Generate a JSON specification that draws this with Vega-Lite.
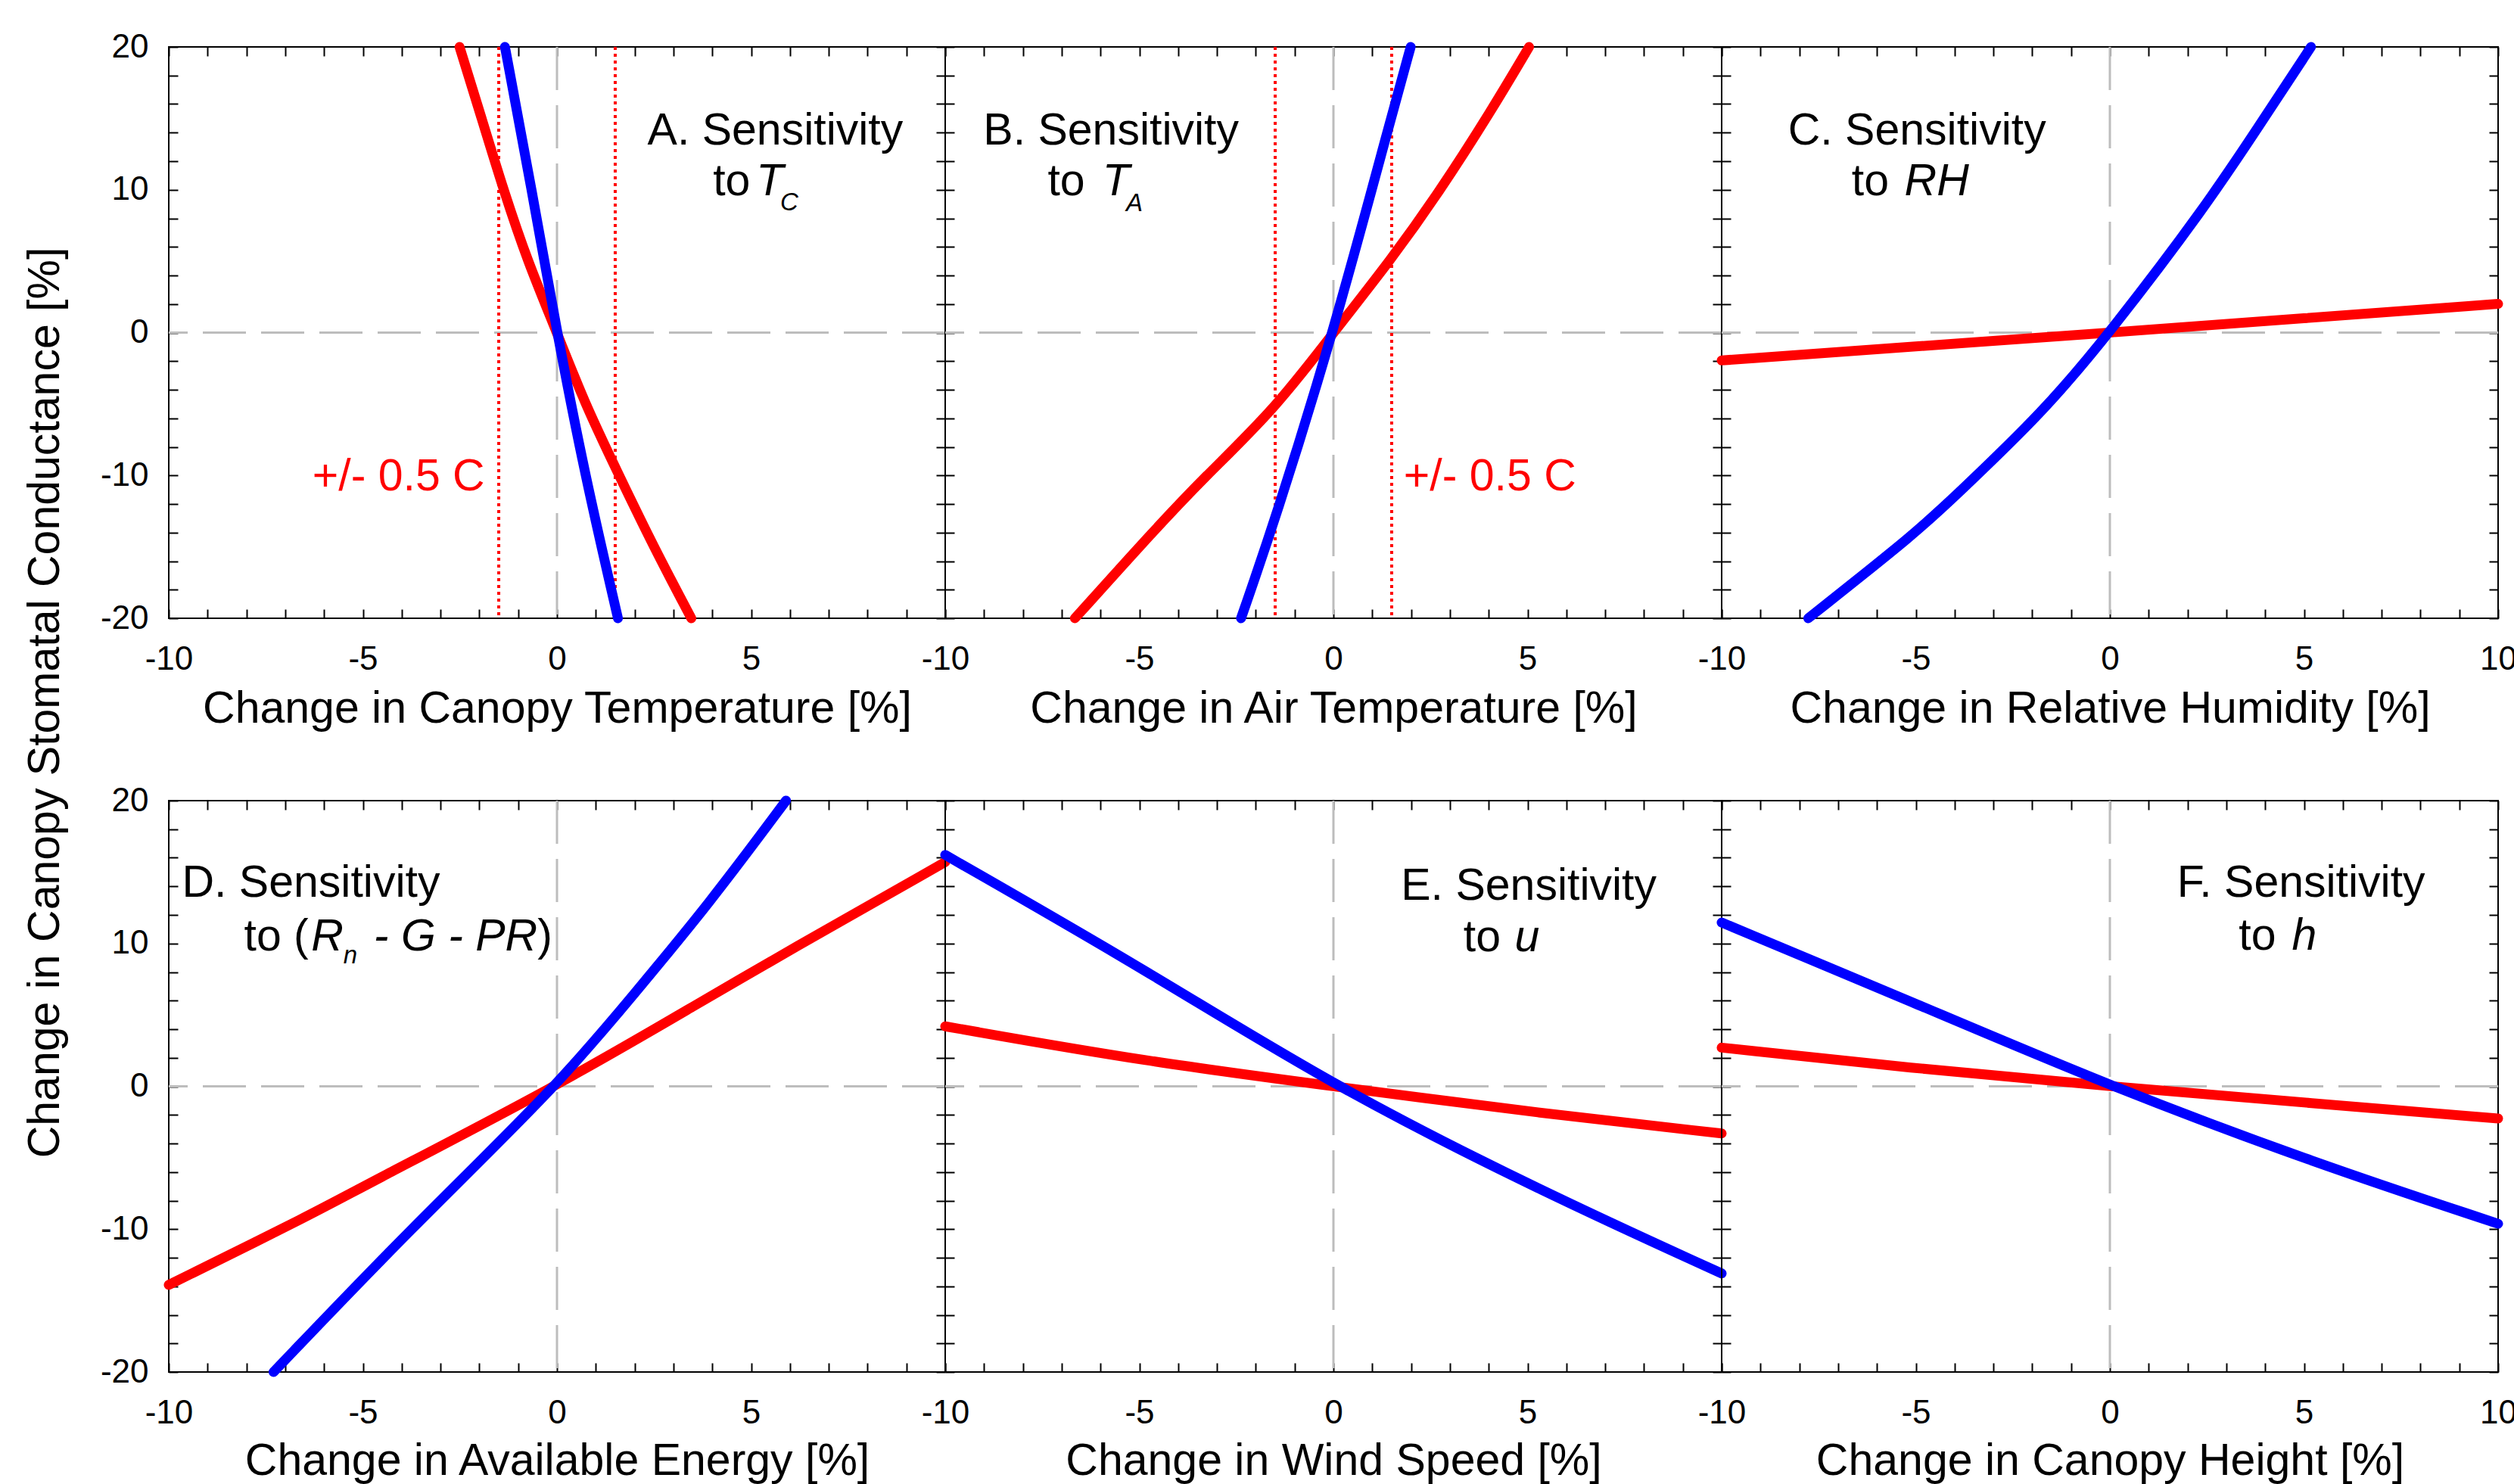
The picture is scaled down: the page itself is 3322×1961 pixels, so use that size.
{
  "$schema": "https://vega.github.io/schema/vega-lite/v6.json",
  "background": "white",
  "padding": {"left": 28, "top": 39, "right": 0, "bottom": 0},
  "columns": 3,
  "bounds": "flush",
  "spacing": {"row": 241, "column": 0},
  "config": {
    "view": {"stroke": "black", "strokeWidth": 2},
    "axis": {"domain": false, "grid": false, "tickColor": "black", "tickWidth": 2, "tickSize": -12,
      "labelFont": "Liberation Sans", "labelFontSize": 44, "labelColor": "black",
      "titleFont": "Liberation Sans", "titleFontSize": 59, "titleFontWeight": "normal", "titleColor": "black",
      "labelFlush": false, "labelOverlap": false, "labelBound": false},
    "text": {"font": "Liberation Sans", "fontSize": 59, "align": "left", "baseline": "alphabetic", "color": "black"}
  },
  "concat": [
    {
      "width": 1026, "height": 755,
      "layer": [
        {"data": {"values": [{"x": 0}]}, "mark": {"type": "rule", "color": "#bdbdbd", "strokeWidth": 3, "strokeDash": [57, 20]},
         "encoding": {"x": {"field": "x", "type": "quantitative", "scale": {"domain": [-10, 10], "nice": false, "zero": false},
           "axis": {"orient": "top", "values": [-10,-9,-8,-7,-6,-5,-4,-3,-2,-1,0,1,2,3,4,5,6,7,8,9,10], "labels": false, "title": null}}}},
        {"data": {"values": [{"y": 0}]}, "mark": {"type": "rule", "color": "#bdbdbd", "strokeWidth": 3, "strokeDash": [57, 20]},
         "encoding": {"y": {"field": "y", "type": "quantitative", "scale": {"domain": [-20, 20], "nice": false, "zero": false},
           "axis": {"orient": "right", "values": [-20,-18,-16,-14,-12,-10,-8,-6,-4,-2,0,2,4,6,8,10,12,14,16,18,20], "labels": false, "title": null}}}},
        {"data": {"values": [{"x": -1.5}, {"x": 1.5}]}, "mark": {"type": "rule", "color": "#ff0000", "strokeWidth": 4, "strokeDash": [4, 5]},
         "encoding": {"x": {"field": "x", "type": "quantitative", "scale": {"domain": [-10, 10], "nice": false, "zero": false}, "axis": null}}},
        {"data": {"values": [
          {"series": "Case 1", "x": -2.51, "y": 20}, {"series": "Case 1", "x": -1.94, "y": 15}, {"series": "Case 1", "x": -1.38, "y": 10},
          {"series": "Case 1", "x": -0.76, "y": 5}, {"series": "Case 1", "x": 0, "y": 0}, {"series": "Case 1", "x": 0.72, "y": -5},
          {"series": "Case 1", "x": 1.6, "y": -10}, {"series": "Case 1", "x": 2.49, "y": -15}, {"series": "Case 1", "x": 3.46, "y": -20},
          {"series": "Case 2", "x": -1.34, "y": 20}, {"series": "Case 2", "x": -0.65, "y": 10}, {"series": "Case 2", "x": 0, "y": 0},
          {"series": "Case 2", "x": 0.72, "y": -10}, {"series": "Case 2", "x": 1.57, "y": -20}
         ]},
         "mark": {"type": "line", "strokeWidth": 13, "strokeCap": "round", "strokeJoin": "round", "interpolate": "basis"},
         "encoding": {
           "x": {"field": "x", "type": "quantitative", "scale": {"domain": [-10, 10], "nice": false, "zero": false},
             "axis": {"orient": "bottom", "values": [-10,-9,-8,-7,-6,-5,-4,-3,-2,-1,0,1,2,3,4,5,6,7,8,9,10],
               "labelExpr": "datum.value % 5 === 0 && datum.value < 10 ? '' + datum.value : ''", "labelPadding": 79, "labelBaseline": "alphabetic",
               "title": "Change in Canopy Temperature [%]", "titleY": 137, "titleBaseline": "alphabetic"}},
           "y": {"field": "y", "type": "quantitative", "scale": {"domain": [-20, 20], "nice": false, "zero": false},
             "axis": {"orient": "left", "values": [-20,-18,-16,-14,-12,-10,-8,-6,-4,-2,0,2,4,6,8,10,12,14,16,18,20],
               "labelExpr": "datum.value % 10 === 0 ? '' + datum.value : ''", "labelPadding": 39, "title": null}},
           "color": {"field": "series", "type": "nominal", "scale": {"domain": ["Case 1", "Case 2"], "range": ["#ff0000", "#0000ff"]}, "legend": null}
         }},
        {"data": {"values": [{"x": 2.33, "y": 13.15, "label": "A. Sensitivity"}, {"x": 4.02, "y": 9.59, "label": "to"}]},
         "mark": {"type": "text"},
         "encoding": {"x": {"field": "x", "type": "quantitative", "scale": {"domain": [-10, 10], "nice": false, "zero": false}, "axis": null},
           "y": {"field": "y", "type": "quantitative", "scale": {"domain": [-20, 20], "nice": false, "zero": false}, "axis": null},
           "text": {"field": "label"}}},
        {"data": {"values": [{"x": 5.13, "y": 9.59, "label": "T"}]},
         "mark": {"type": "text", "fontStyle": "italic"},
         "encoding": {"x": {"field": "x", "type": "quantitative", "axis": null}, "y": {"field": "y", "type": "quantitative", "axis": null}, "text": {"field": "label"}}},
        {"data": {"values": [{"x": 5.75, "y": 8.58, "label": "C"}]},
         "mark": {"type": "text", "fontStyle": "italic", "fontSize": 33},
         "encoding": {"x": {"field": "x", "type": "quantitative", "axis": null}, "y": {"field": "y", "type": "quantitative", "axis": null}, "text": {"field": "label"}}},
        {"data": {"values": [{"x": -6.3, "y": -11.07, "label": "+/- 0.5 C"}]},
         "mark": {"type": "text", "color": "#ff0000"},
         "encoding": {"x": {"field": "x", "type": "quantitative", "axis": null}, "y": {"field": "y", "type": "quantitative", "axis": null}, "text": {"field": "label"}}}
      ]
    },
    {
      "width": 1026, "height": 755,
      "layer": [
        {"data": {"values": [{"x": 0}]}, "mark": {"type": "rule", "color": "#bdbdbd", "strokeWidth": 3, "strokeDash": [57, 20]},
         "encoding": {"x": {"field": "x", "type": "quantitative", "scale": {"domain": [-10, 10], "nice": false, "zero": false},
           "axis": {"orient": "top", "values": [-10,-9,-8,-7,-6,-5,-4,-3,-2,-1,0,1,2,3,4,5,6,7,8,9,10], "labels": false, "title": null}}}},
        {"data": {"values": [{"y": 0}]}, "mark": {"type": "rule", "color": "#bdbdbd", "strokeWidth": 3, "strokeDash": [57, 20]},
         "encoding": {"y": {"field": "y", "type": "quantitative", "scale": {"domain": [-20, 20], "nice": false, "zero": false},
           "axis": {"orient": "right", "values": [-20,-18,-16,-14,-12,-10,-8,-6,-4,-2,0,2,4,6,8,10,12,14,16,18,20], "labels": false, "title": null}}}},
        {"data": {"values": [{"x": -1.5}, {"x": 1.5}]}, "mark": {"type": "rule", "color": "#ff0000", "strokeWidth": 4, "strokeDash": [4, 5]},
         "encoding": {"x": {"field": "x", "type": "quantitative", "scale": {"domain": [-10, 10], "nice": false, "zero": false}, "axis": null}}},
        {"data": {"values": [
          {"series": "Case 1", "x": -6.66, "y": -20}, {"series": "Case 1", "x": -4.66, "y": -13.97}, {"series": "Case 1", "x": -3.37, "y": -10.25},
          {"series": "Case 1", "x": -1.5, "y": -5.33}, {"series": "Case 1", "x": 0, "y": 0}, {"series": "Case 1", "x": 1.5, "y": 5.17},
          {"series": "Case 1", "x": 2.7, "y": 9.74}, {"series": "Case 1", "x": 4.06, "y": 15.5}, {"series": "Case 1", "x": 5.04, "y": 20},
          {"series": "Case 2", "x": -2.38, "y": -20}, {"series": "Case 2", "x": -1.5, "y": -13.1}, {"series": "Case 2", "x": 0, "y": 0},
          {"series": "Case 2", "x": 1.5, "y": 15.2}, {"series": "Case 2", "x": 1.99, "y": 20}
         ]},
         "mark": {"type": "line", "strokeWidth": 13, "strokeCap": "round", "strokeJoin": "round", "interpolate": "basis"},
         "encoding": {
           "x": {"field": "x", "type": "quantitative", "scale": {"domain": [-10, 10], "nice": false, "zero": false},
             "axis": {"orient": "bottom", "values": [-10,-9,-8,-7,-6,-5,-4,-3,-2,-1,0,1,2,3,4,5,6,7,8,9,10],
               "labelExpr": "datum.value % 5 === 0 && datum.value < 10 ? '' + datum.value : ''", "labelPadding": 79, "labelBaseline": "alphabetic",
               "title": "Change in Air Temperature [%]", "titleY": 137, "titleBaseline": "alphabetic"}},
           "y": {"field": "y", "type": "quantitative", "scale": {"domain": [-20, 20], "nice": false, "zero": false},
             "axis": {"orient": "left", "values": [-20,-18,-16,-14,-12,-10,-8,-6,-4,-2,0,2,4,6,8,10,12,14,16,18,20], "labels": false, "title": null}},
           "color": {"field": "series", "type": "nominal", "scale": {"domain": ["Case 1", "Case 2"], "range": ["#ff0000", "#0000ff"]}, "legend": null}
         }},
        {"data": {"values": [{"x": -9.02, "y": 13.15, "label": "B. Sensitivity"}, {"x": -7.36, "y": 9.59, "label": "to"}]},
         "mark": {"type": "text"},
         "encoding": {"x": {"field": "x", "type": "quantitative", "scale": {"domain": [-10, 10], "nice": false, "zero": false}, "axis": null},
           "y": {"field": "y", "type": "quantitative", "scale": {"domain": [-20, 20], "nice": false, "zero": false}, "axis": null},
           "text": {"field": "label"}}},
        {"data": {"values": [{"x": -5.95, "y": 9.59, "label": "T"}]},
         "mark": {"type": "text", "fontStyle": "italic"},
         "encoding": {"x": {"field": "x", "type": "quantitative", "axis": null}, "y": {"field": "y", "type": "quantitative", "axis": null}, "text": {"field": "label"}}},
        {"data": {"values": [{"x": -5.34, "y": 8.49, "label": "A"}]},
         "mark": {"type": "text", "fontStyle": "italic", "fontSize": 33},
         "encoding": {"x": {"field": "x", "type": "quantitative", "axis": null}, "y": {"field": "y", "type": "quantitative", "axis": null}, "text": {"field": "label"}}},
        {"data": {"values": [{"x": 1.81, "y": -11.07, "label": "+/- 0.5 C"}]},
         "mark": {"type": "text", "color": "#ff0000"},
         "encoding": {"x": {"field": "x", "type": "quantitative", "axis": null}, "y": {"field": "y", "type": "quantitative", "axis": null}, "text": {"field": "label"}}}
      ]
    },
    {
      "width": 1026, "height": 755,
      "layer": [
        {"data": {"values": [{"x": 0}]}, "mark": {"type": "rule", "color": "#bdbdbd", "strokeWidth": 3, "strokeDash": [57, 20]},
         "encoding": {"x": {"field": "x", "type": "quantitative", "scale": {"domain": [-10, 10], "nice": false, "zero": false},
           "axis": {"orient": "top", "values": [-10,-9,-8,-7,-6,-5,-4,-3,-2,-1,0,1,2,3,4,5,6,7,8,9,10], "labels": false, "title": null}}}},
        {"data": {"values": [{"y": 0}]}, "mark": {"type": "rule", "color": "#bdbdbd", "strokeWidth": 3, "strokeDash": [57, 20]},
         "encoding": {"y": {"field": "y", "type": "quantitative", "scale": {"domain": [-20, 20], "nice": false, "zero": false},
           "axis": {"orient": "right", "values": [-20,-18,-16,-14,-12,-10,-8,-6,-4,-2,0,2,4,6,8,10,12,14,16,18,20], "labels": false, "title": null}}}},
        {"data": {"values": [
          {"series": "Case 1", "x": -10, "y": -1.95}, {"series": "Case 1", "x": -5, "y": -0.97}, {"series": "Case 1", "x": 0, "y": 0},
          {"series": "Case 1", "x": 5, "y": 1.0}, {"series": "Case 1", "x": 10, "y": 2.01},
          {"series": "Case 2", "x": -7.77, "y": -20}, {"series": "Case 2", "x": -4.94, "y": -13.9}, {"series": "Case 2", "x": -3.97, "y": -11.4},
          {"series": "Case 2", "x": -1.73, "y": -5.6}, {"series": "Case 2", "x": 0, "y": 0}, {"series": "Case 2", "x": 2.46, "y": 8.8},
          {"series": "Case 2", "x": 3.85, "y": 14.5}, {"series": "Case 2", "x": 5.18, "y": 20}
         ]},
         "mark": {"type": "line", "strokeWidth": 13, "strokeCap": "round", "strokeJoin": "round", "interpolate": "basis"},
         "encoding": {
           "x": {"field": "x", "type": "quantitative", "scale": {"domain": [-10, 10], "nice": false, "zero": false},
             "axis": {"orient": "bottom", "values": [-10,-9,-8,-7,-6,-5,-4,-3,-2,-1,0,1,2,3,4,5,6,7,8,9,10],
               "labelExpr": "datum.value % 5 === 0 ? '' + datum.value : ''", "labelPadding": 79, "labelBaseline": "alphabetic",
               "title": "Change in Relative Humidity [%]", "titleY": 137, "titleBaseline": "alphabetic"}},
           "y": {"field": "y", "type": "quantitative", "scale": {"domain": [-20, 20], "nice": false, "zero": false},
             "axis": {"orient": "left", "values": [-20,-18,-16,-14,-12,-10,-8,-6,-4,-2,0,2,4,6,8,10,12,14,16,18,20], "labels": false, "title": null}},
           "color": {"field": "series", "type": "nominal", "scale": {"domain": ["Case 1", "Case 2"], "range": ["#ff0000", "#0000ff"]}, "legend": null}
         }},
        {"data": {"values": [{"x": -8.29, "y": 13.15, "label": "C. Sensitivity"}, {"x": -6.65, "y": 9.59, "label": "to"}]},
         "mark": {"type": "text"},
         "encoding": {"x": {"field": "x", "type": "quantitative", "scale": {"domain": [-10, 10], "nice": false, "zero": false}, "axis": null},
           "y": {"field": "y", "type": "quantitative", "scale": {"domain": [-20, 20], "nice": false, "zero": false}, "axis": null},
           "text": {"field": "label"}}},
        {"data": {"values": [{"x": -5.29, "y": 9.59, "label": "RH"}]},
         "mark": {"type": "text", "fontStyle": "italic"},
         "encoding": {"x": {"field": "x", "type": "quantitative", "axis": null}, "y": {"field": "y", "type": "quantitative", "axis": null}, "text": {"field": "label"}}}
      ]
    },
    {
      "width": 1026, "height": 755,
      "layer": [
        {"data": {"values": [{"x": 0}]}, "mark": {"type": "rule", "color": "#bdbdbd", "strokeWidth": 3, "strokeDash": [57, 20]},
         "encoding": {"x": {"field": "x", "type": "quantitative", "scale": {"domain": [-10, 10], "nice": false, "zero": false},
           "axis": {"orient": "top", "values": [-10,-9,-8,-7,-6,-5,-4,-3,-2,-1,0,1,2,3,4,5,6,7,8,9,10], "labels": false, "title": null}}}},
        {"data": {"values": [{"y": 0}]}, "mark": {"type": "rule", "color": "#bdbdbd", "strokeWidth": 3, "strokeDash": [57, 20]},
         "encoding": {"y": {"field": "y", "type": "quantitative", "scale": {"domain": [-20, 20], "nice": false, "zero": false},
           "axis": {"orient": "right", "values": [-20,-18,-16,-14,-12,-10,-8,-6,-4,-2,0,2,4,6,8,10,12,14,16,18,20], "labels": false, "title": null}}}},
        {"data": {"values": [
          {"series": "Case 1", "x": -10, "y": -13.9}, {"series": "Case 1", "x": -6.2, "y": -8.8}, {"series": "Case 1", "x": -5, "y": -7.0},
          {"series": "Case 1", "x": 0, "y": 0}, {"series": "Case 1", "x": 3.76, "y": 6.0}, {"series": "Case 1", "x": 5.85, "y": 9.3},
          {"series": "Case 1", "x": 10, "y": 15.7},
          {"series": "Case 2", "x": -7.3, "y": -20}, {"series": "Case 2", "x": -3.79, "y": -10.02}, {"series": "Case 2", "x": 0, "y": 0},
          {"series": "Case 2", "x": 2.0, "y": 6.51}, {"series": "Case 2", "x": 3.92, "y": 12.79}, {"series": "Case 2", "x": 5.9, "y": 20}
         ]},
         "mark": {"type": "line", "strokeWidth": 13, "strokeCap": "round", "strokeJoin": "round", "interpolate": "basis"},
         "encoding": {
           "x": {"field": "x", "type": "quantitative", "scale": {"domain": [-10, 10], "nice": false, "zero": false},
             "axis": {"orient": "bottom", "values": [-10,-9,-8,-7,-6,-5,-4,-3,-2,-1,0,1,2,3,4,5,6,7,8,9,10],
               "labelExpr": "datum.value % 5 === 0 && datum.value < 10 ? '' + datum.value : ''", "labelPadding": 79, "labelBaseline": "alphabetic",
               "title": "Change in Available Energy [%]", "titleY": 135, "titleBaseline": "alphabetic"}},
           "y": {"field": "y", "type": "quantitative", "scale": {"domain": [-20, 20], "nice": false, "zero": false},
             "axis": {"orient": "left", "values": [-20,-18,-16,-14,-12,-10,-8,-6,-4,-2,0,2,4,6,8,10,12,14,16,18,20],
               "labelExpr": "datum.value % 10 === 0 ? '' + datum.value : ''", "labelPadding": 39,
               "title": "Change in Canopy Stomatal Conductance [%]", "titleAngle": -90, "titleAlign": "center", "titleBaseline": "alphabetic",
               "titleX": -146, "titleY": -130}},
           "color": {"field": "series", "type": "nominal", "scale": {"domain": ["Case 1", "Case 2"], "range": ["#ff0000", "#0000ff"]}, "legend": null}
         }},
        {"data": {"values": [{"x": -9.66, "y": 13.28, "label": "D. Sensitivity"}, {"x": -8.06, "y": 9.49, "label": "to ("}, {"x": -0.5, "y": 9.49, "label": ")"}]},
         "mark": {"type": "text"},
         "encoding": {"x": {"field": "x", "type": "quantitative", "scale": {"domain": [-10, 10], "nice": false, "zero": false}, "axis": null},
           "y": {"field": "y", "type": "quantitative", "scale": {"domain": [-20, 20], "nice": false, "zero": false}, "axis": null},
           "text": {"field": "label"}}},
        {"data": {"values": [{"x": -6.33, "y": 9.49, "label": "R"}, {"x": -4.72, "y": 9.49, "label": "- G - PR"}]},
         "mark": {"type": "text", "fontStyle": "italic"},
         "encoding": {"x": {"field": "x", "type": "quantitative", "axis": null}, "y": {"field": "y", "type": "quantitative", "axis": null}, "text": {"field": "label"}}},
        {"data": {"values": [{"x": -5.5, "y": 8.61, "label": "n"}]},
         "mark": {"type": "text", "fontStyle": "italic", "fontSize": 33},
         "encoding": {"x": {"field": "x", "type": "quantitative", "axis": null}, "y": {"field": "y", "type": "quantitative", "axis": null}, "text": {"field": "label"}}}
      ]
    },
    {
      "width": 1026, "height": 755,
      "layer": [
        {"data": {"values": [{"x": 0}]}, "mark": {"type": "rule", "color": "#bdbdbd", "strokeWidth": 3, "strokeDash": [57, 20]},
         "encoding": {"x": {"field": "x", "type": "quantitative", "scale": {"domain": [-10, 10], "nice": false, "zero": false},
           "axis": {"orient": "top", "values": [-10,-9,-8,-7,-6,-5,-4,-3,-2,-1,0,1,2,3,4,5,6,7,8,9,10], "labels": false, "title": null}}}},
        {"data": {"values": [{"y": 0}]}, "mark": {"type": "rule", "color": "#bdbdbd", "strokeWidth": 3, "strokeDash": [57, 20]},
         "encoding": {"y": {"field": "y", "type": "quantitative", "scale": {"domain": [-20, 20], "nice": false, "zero": false},
           "axis": {"orient": "right", "values": [-20,-18,-16,-14,-12,-10,-8,-6,-4,-2,0,2,4,6,8,10,12,14,16,18,20], "labels": false, "title": null}}}},
        {"data": {"values": [
          {"series": "Case 1", "x": -10, "y": 4.2}, {"series": "Case 1", "x": -4.8, "y": 1.72}, {"series": "Case 1", "x": 0, "y": 0},
          {"series": "Case 1", "x": 5.4, "y": -1.91}, {"series": "Case 1", "x": 10, "y": -3.3},
          {"series": "Case 2", "x": -10, "y": 16.2}, {"series": "Case 2", "x": -4.8, "y": 8.1}, {"series": "Case 2", "x": 0, "y": 0},
          {"series": "Case 2", "x": 5.4, "y": -7.4}, {"series": "Case 2", "x": 10, "y": -13.1}
         ]},
         "mark": {"type": "line", "strokeWidth": 13, "strokeCap": "round", "strokeJoin": "round", "interpolate": "basis"},
         "encoding": {
           "x": {"field": "x", "type": "quantitative", "scale": {"domain": [-10, 10], "nice": false, "zero": false},
             "axis": {"orient": "bottom", "values": [-10,-9,-8,-7,-6,-5,-4,-3,-2,-1,0,1,2,3,4,5,6,7,8,9,10],
               "labelExpr": "datum.value % 5 === 0 && datum.value < 10 ? '' + datum.value : ''", "labelPadding": 79, "labelBaseline": "alphabetic",
               "title": "Change in Wind Speed [%]", "titleY": 135, "titleBaseline": "alphabetic"}},
           "y": {"field": "y", "type": "quantitative", "scale": {"domain": [-20, 20], "nice": false, "zero": false},
             "axis": {"orient": "left", "values": [-20,-18,-16,-14,-12,-10,-8,-6,-4,-2,0,2,4,6,8,10,12,14,16,18,20], "labels": false, "title": null}},
           "color": {"field": "series", "type": "nominal", "scale": {"domain": ["Case 1", "Case 2"], "range": ["#ff0000", "#0000ff"]}, "legend": null}
         }},
        {"data": {"values": [{"x": 1.74, "y": 13.04, "label": "E. Sensitivity"}, {"x": 3.35, "y": 9.47, "label": "to"}]},
         "mark": {"type": "text"},
         "encoding": {"x": {"field": "x", "type": "quantitative", "scale": {"domain": [-10, 10], "nice": false, "zero": false}, "axis": null},
           "y": {"field": "y", "type": "quantitative", "scale": {"domain": [-20, 20], "nice": false, "zero": false}, "axis": null},
           "text": {"field": "label"}}},
        {"data": {"values": [{"x": 4.67, "y": 9.47, "label": "u"}]},
         "mark": {"type": "text", "fontStyle": "italic"},
         "encoding": {"x": {"field": "x", "type": "quantitative", "axis": null}, "y": {"field": "y", "type": "quantitative", "axis": null}, "text": {"field": "label"}}}
      ]
    },
    {
      "width": 1026, "height": 755,
      "layer": [
        {"data": {"values": [{"x": 0}]}, "mark": {"type": "rule", "color": "#bdbdbd", "strokeWidth": 3, "strokeDash": [57, 20]},
         "encoding": {"x": {"field": "x", "type": "quantitative", "scale": {"domain": [-10, 10], "nice": false, "zero": false},
           "axis": {"orient": "top", "values": [-10,-9,-8,-7,-6,-5,-4,-3,-2,-1,0,1,2,3,4,5,6,7,8,9,10], "labels": false, "title": null}}}},
        {"data": {"values": [{"y": 0}]}, "mark": {"type": "rule", "color": "#bdbdbd", "strokeWidth": 3, "strokeDash": [57, 20]},
         "encoding": {"y": {"field": "y", "type": "quantitative", "scale": {"domain": [-20, 20], "nice": false, "zero": false},
           "axis": {"orient": "right", "values": [-20,-18,-16,-14,-12,-10,-8,-6,-4,-2,0,2,4,6,8,10,12,14,16,18,20], "labels": false, "title": null}}}},
        {"data": {"values": [
          {"series": "Case 1", "x": -10, "y": 2.71}, {"series": "Case 1", "x": -5.19, "y": 1.29}, {"series": "Case 1", "x": 0, "y": 0},
          {"series": "Case 1", "x": 5.3, "y": -1.2}, {"series": "Case 1", "x": 10, "y": -2.25},
          {"series": "Case 2", "x": -10, "y": 11.47}, {"series": "Case 2", "x": -5.19, "y": 6.02}, {"series": "Case 2", "x": 0, "y": 0},
          {"series": "Case 2", "x": 5.3, "y": -5.39}, {"series": "Case 2", "x": 10, "y": -9.62}
         ]},
         "mark": {"type": "line", "strokeWidth": 13, "strokeCap": "round", "strokeJoin": "round", "interpolate": "basis"},
         "encoding": {
           "x": {"field": "x", "type": "quantitative", "scale": {"domain": [-10, 10], "nice": false, "zero": false},
             "axis": {"orient": "bottom", "values": [-10,-9,-8,-7,-6,-5,-4,-3,-2,-1,0,1,2,3,4,5,6,7,8,9,10],
               "labelExpr": "datum.value % 5 === 0 ? '' + datum.value : ''", "labelPadding": 79, "labelBaseline": "alphabetic",
               "title": "Change in Canopy Height [%]", "titleY": 135, "titleBaseline": "alphabetic"}},
           "y": {"field": "y", "type": "quantitative", "scale": {"domain": [-20, 20], "nice": false, "zero": false},
             "axis": {"orient": "left", "values": [-20,-18,-16,-14,-12,-10,-8,-6,-4,-2,0,2,4,6,8,10,12,14,16,18,20], "labels": false, "title": null}},
           "color": {"field": "series", "type": "nominal", "scale": {"domain": ["Case 1", "Case 2"], "range": ["#ff0000", "#0000ff"]}, "legend": null}
         }},
        {"data": {"values": [{"x": 1.73, "y": 13.27, "label": "F. Sensitivity"}, {"x": 3.32, "y": 9.57, "label": "to"}]},
         "mark": {"type": "text"},
         "encoding": {"x": {"field": "x", "type": "quantitative", "scale": {"domain": [-10, 10], "nice": false, "zero": false}, "axis": null},
           "y": {"field": "y", "type": "quantitative", "scale": {"domain": [-20, 20], "nice": false, "zero": false}, "axis": null},
           "text": {"field": "label"}}},
        {"data": {"values": [{"x": 4.69, "y": 9.57, "label": "h"}]},
         "mark": {"type": "text", "fontStyle": "italic"},
         "encoding": {"x": {"field": "x", "type": "quantitative", "axis": null}, "y": {"field": "y", "type": "quantitative", "axis": null}, "text": {"field": "label"}}}
      ]
    }
  ]
}
